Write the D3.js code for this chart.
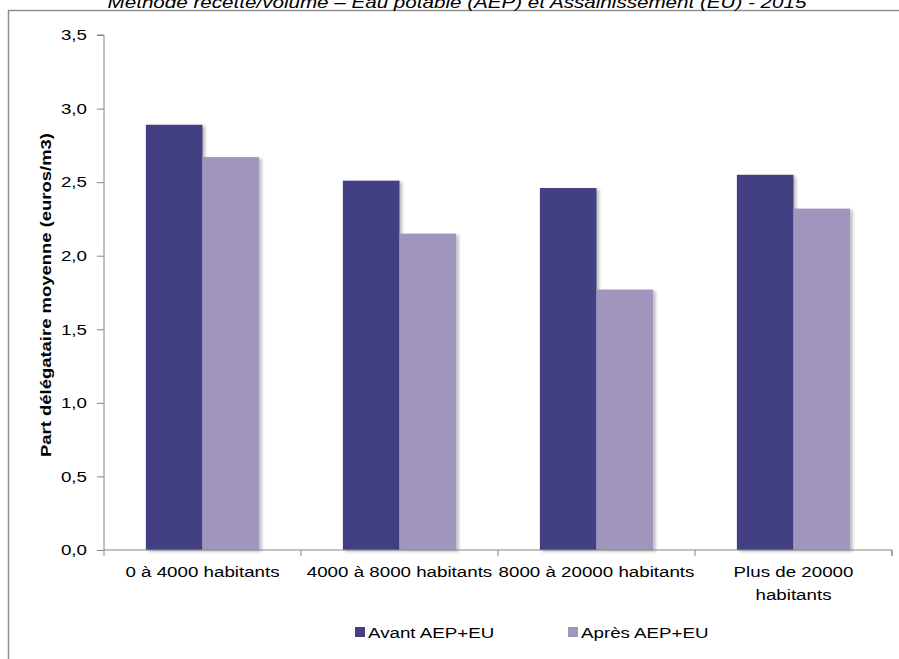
<!DOCTYPE html>
<html>
<head>
<meta charset="utf-8">
<script src="https://cdn.jsdelivr.net/npm/d3@7"></script>
<style>
  html, body { margin: 0; padding: 0; background: #fff; }
  svg { display: block; font-family: "Liberation Sans", Arial, sans-serif; }
</style>
</head>
<body>
<svg id="chart" width="899" height="659"></svg>
<script>
// Part délégataire moyenne par tranche de population
const categories = ["0 à 4000 habitants", "4000 à 8000 habitants", "8000 à 20000 habitants", "Plus de 20000|habitants"];
const seriesNames = ["Avant AEP+EU", "Après AEP+EU"];
const avant = [2.89, 2.51, 2.46, 2.55];
const apres = [2.67, 2.15, 1.77, 2.32];
const yTicks = [0, 0.5, 1.0, 1.5, 2.0, 2.5, 3.0, 3.5];
const colors = ["#433f82", "#a095bd"];
const titleText = "Méthode recette/volume – Eau potable (AEP) et Assainissement (EU) - 2015";
const yLabel = "Part délégataire moyenne (euros/m3)";

const SX = 1.25; // horizontal glyph stretch
const svg = d3.select("#chart");

const plotLeft = 104, plotRight = 892, plotTop = 35, plotBottom = 550;

const x0 = d3.scaleBand().domain(categories).range([plotLeft, plotRight]).paddingInner(0).paddingOuter(0);
const x1 = d3.scaleBand().domain(seriesNames).range([0, x0.bandwidth()]).paddingInner(0).paddingOuter(0.74);
const y = d3.scaleLinear().domain([0, 3.5]).range([plotBottom, plotTop]);

const defs = svg.append("defs");
const f = defs.append("filter").attr("id", "shadow").attr("x", "-20%").attr("y", "-5%").attr("width", "150%").attr("height", "115%");
f.append("feDropShadow").attr("dx", 2.5).attr("dy", 1.5).attr("stdDeviation", 1.6)
  .attr("flood-color", "#000").attr("flood-opacity", 0.28);

// outer frame
svg.append("rect").attr("x", 8.5).attr("y", 10.5).attr("width", 1000).attr("height", 1000)
  .attr("fill", "none").attr("stroke", "#8f8f8f").attr("stroke-width", 1.5);

// title
svg.append("text").attr("class", "st").attr("x", 457).attr("y", 7.5)
  .attr("text-anchor", "middle").attr("font-size", 16.5).attr("font-style", "italic")
  .attr("fill", "#000").text(titleText);

// bars
const data = categories.map((c, i) => ({ cat: c, vals: [avant[i], apres[i]] }));
const groups = svg.append("g").selectAll("g").data(data).join("g")
  .attr("transform", d => `translate(${x0(d.cat)},0)`);
groups.selectAll("rect").data(d => d.vals.map((v, j) => ({ name: seriesNames[j], v, j })))
  .join("rect")
  .attr("x", d => x1(d.name))
  .attr("width", x1.bandwidth())
  .attr("y", d => y(d.v))
  .attr("height", d => y(0) - y(d.v))
  .attr("fill", d => colors[d.j])
  .attr("filter", "url(#shadow)");

// y axis
const fmt = v => d3.format(".1f")(v).replace(".", ",");
const yAxis = svg.append("g").attr("transform", `translate(${plotLeft},0)`)
  .call(d3.axisLeft(y).tickValues(yTicks).tickSize(7).tickPadding(10).tickFormat(fmt));
yAxis.select(".domain").attr("stroke", "#868686").attr("d", `M-7,${plotTop}H0V${plotBottom + 6}`);
yAxis.selectAll(".tick line").attr("stroke", "#868686");
yAxis.selectAll(".tick text").attr("class", "st").attr("font-size", 15).attr("fill", "#000");
yAxis.attr("font-family", null).attr("font-size", null);

// x axis
const xAxis = svg.append("g").attr("transform", `translate(0,${plotBottom})`)
  .call(d3.axisBottom(x0).tickSize(0).tickPadding(16).tickFormat(""));
xAxis.attr("font-family", null).attr("font-size", null);
xAxis.select(".domain").attr("stroke", "#868686").attr("d", `M${plotLeft},0H${plotRight}V6`);
xAxis.selectAll(".tick text").remove();
const bounds = categories.map(c => x0(c)).concat([plotRight]);
xAxis.selectAll("line.sep").data(bounds.slice(1)).join("line").attr("class", "sep")
  .attr("x1", d => d).attr("x2", d => d).attr("y1", 0).attr("y2", 6).attr("stroke", "#868686");
xAxis.selectAll("text.cat").data(categories).join("text")
  .attr("class", "cat st")
  .attr("transform", d => `translate(${x0(d) + x0.bandwidth() / 2},0)`)
  .attr("text-anchor", "middle").attr("font-size", 15).attr("fill", "#000")
  .each(function (d) {
    const lines = d.split("|");
    d3.select(this).selectAll("tspan").data(lines).join("tspan")
      .attr("x", 0).attr("y", (l, i) => 27 + i * 23).text(l => l);
  });

// y axis title
svg.append("text")
  .attr("transform", "translate(51,295) rotate(-90)")
  .attr("text-anchor", "middle").attr("font-size", 15.5).attr("font-weight", "bold")
  .attr("fill", "#000").attr("textLength", 324).attr("lengthAdjust", "spacingAndGlyphs")
  .text(yLabel);

// legend
const legendX = [355, 568];
const lg = svg.append("g").selectAll("g").data(seriesNames).join("g")
  .attr("transform", (d, i) => `translate(${legendX[i]},627)`);
lg.append("rect").attr("width", 10).attr("height", 10).attr("fill", (d, i) => colors[i]);
lg.append("text").attr("class", "st").attr("x", 13).attr("y", 11).attr("font-size", 15)
  .attr("fill", "#000").text(d => d);

// stretch horizontal text
svg.selectAll("text.st").each(function () {
  const t = d3.select(this);
  const xv = +t.attr("x") || 0;
  const yv = +t.attr("y") || 0;
  const tr = t.attr("transform") || "";
  t.attr("x", null).attr("y", null)
    .attr("transform", `${tr} translate(${xv},${yv}) scale(${SX},1)`);
  t.selectAll("tspan").each(function () {
    const s = d3.select(this);
    s.attr("x", (+s.attr("x") || 0) / SX);
  });
});
</script>
</body>
</html>
